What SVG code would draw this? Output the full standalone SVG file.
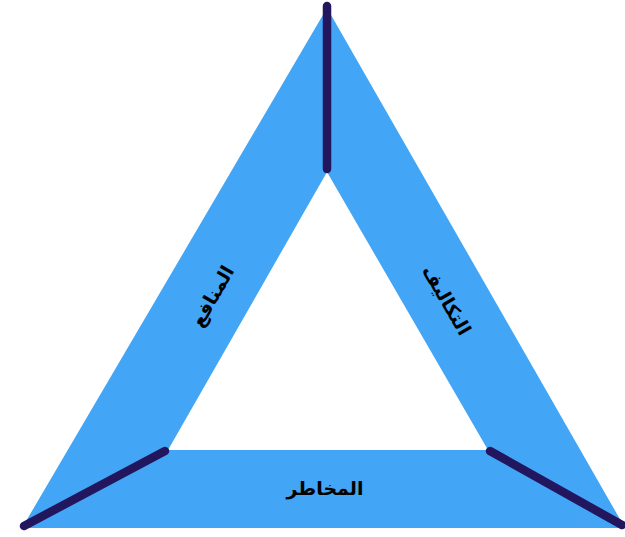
<svg xmlns="http://www.w3.org/2000/svg" width="625" height="537" viewBox="0 0 625 537">
<style>
.band{fill:#42A5F5;fill-rule:evenodd}
.sep{stroke:#22175F;stroke-width:8.5;stroke-linecap:round;fill:none}
.lbl{font-family:"DejaVu Sans","Noto Sans",sans-serif;font-weight:bold;font-size:19px;fill:#000;text-anchor:middle;dominant-baseline:central}
</style>
<rect width="625" height="537" fill="#fff"/>
<g id="frame">
<path class="band" d="M327,8 L22,528 L625,528 Z M327,172 L168,450 L488,450 Z"/>
</g>
<g id="connectors">
<line class="sep" x1="327" y1="6" x2="327" y2="169"/>
<line class="sep" x1="24" y1="526" x2="165" y2="451"/>
<line class="sep" x1="490" y1="451" x2="622" y2="525"/>
</g>
<g id="benefits">
<text class="lbl" direction="rtl" transform="translate(212,296) rotate(-60)">المنافع</text>
</g>
<g id="costs">
<text class="lbl" direction="rtl" transform="translate(447,300) rotate(60)">التكاليف</text>
</g>
<g id="risks">
<text class="lbl" direction="rtl" x="325" y="488">المخاطر</text>
</g>
</svg>
